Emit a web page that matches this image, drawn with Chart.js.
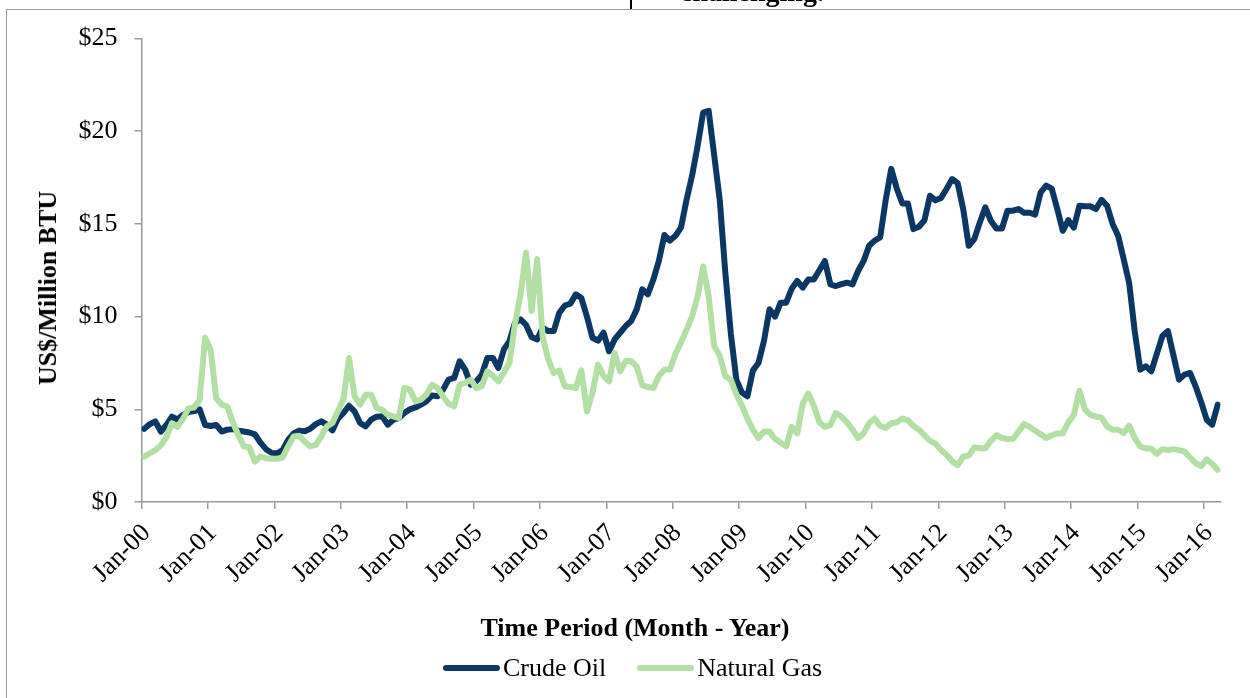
<!DOCTYPE html>
<html>
<head>
<meta charset="utf-8">
<script src="https://cdn.jsdelivr.net/npm/chart.js@4.4.1/dist/chart.umd.min.js"></script>
<style>
  html, body { margin: 0; padding: 0; background: #ffffff; }
  body { width: 1250px; height: 698px; position: relative; overflow: hidden; font-family: "Liberation Serif", "Times New Roman", serif; }
  #chart { position: absolute; left: 0; top: 0; }
  .abs { position: absolute; white-space: nowrap; }
  #frameTop { left: 7px; top: 9px; width: 1243px; height: 0; border-top: 1.5px solid #9a9a9a; }
  #frameLeft { left: 6px; top: 9px; width: 0; height: 689px; border-left: 1.5px solid #9a9a9a; }
  #divider { left: 630px; top: 0; width: 2px; height: 9px; background: #000; }
  #docText { left: 680px; top: -22px; font-size: 28px; line-height: 28px; font-weight: bold; color: #000; }
  #yTitle { left: 48px; top: 288px; font-size: 26px; font-weight: bold; color: #000; transform: translate(-50%, -50%) rotate(-90deg); }
  #xTitle { left: 635px; top: 628px; font-size: 26px; font-weight: bold; color: #000; transform: translate(-50%, -50%); }
  #legend { left: 443px; top: 668px; transform: translateY(-50%); display: flex; align-items: center; font-size: 26px; color: #000; }
  .item { display: flex; align-items: center; }
  .swatch { width: 57px; height: 6px; border-radius: 3px; margin-right: 3px; }
  .gap { width: 31px; }
</style>
</head>
<body>
<canvas id="chart" width="1250" height="698"></canvas>
<div class="abs" id="frameTop"></div>
<div class="abs" id="frameLeft"></div>
<div class="abs" id="divider"></div>
<div class="abs" id="docText">challenging.</div>
<div class="abs" id="yTitle">US$/Million BTU</div>
<div class="abs" id="xTitle">Time Period (Month - Year)</div>
<div class="abs" id="legend"></div>
<script>
// ---- Data (monthly, Jan-2000 .. Mar-2016), US$/Million BTU ----
const seriesNames = ['Crude Oil', 'Natural Gas'];
const seriesColors = ['#0a3763', '#b2dfa2'];

const tickLabels = ['Jan-00','Jan-01','Jan-02','Jan-03','Jan-04','Jan-05','Jan-06','Jan-07',
  'Jan-08','Jan-09','Jan-10','Jan-11','Jan-12','Jan-13','Jan-14','Jan-15','Jan-16'];

const yTickValues = [0, 5, 10, 15, 20, 25];

const crudeOil = [
  3.95, 4.2, 4.35, 3.8, 4.15, 4.6, 4.45, 4.7, 4.85, 4.9, 5.0, 4.15,
  4.1, 4.15, 3.8, 3.9, 3.93, 3.85, 3.8, 3.75, 3.65, 3.2, 2.85, 2.65,
  2.63, 2.8, 3.35, 3.7, 3.85, 3.82, 3.95, 4.2, 4.35, 4.17, 3.86, 4.5,
  4.8, 5.19, 4.89, 4.26, 4.08, 4.44, 4.6, 4.62, 4.17, 4.44, 4.53, 4.8,
  5.0, 5.1, 5.25, 5.43, 5.75, 5.7, 6.06, 6.6, 6.69, 7.59, 7.14, 6.33,
  6.51, 6.87, 7.77, 7.77, 7.23, 8.23, 8.68, 9.67, 9.85, 9.55, 8.9, 8.77,
  9.4, 9.22, 9.22, 10.2, 10.6, 10.7, 11.2, 11.0, 10.0, 8.86, 8.7, 9.13,
  8.13, 8.77, 9.13, 9.49, 9.76, 10.39, 11.47, 11.2, 12.0, 13.0, 14.4, 14.1,
  14.36, 14.8, 16.3, 17.6, 19.2, 21.0, 21.1, 18.7, 16.3, 12.4, 9.1, 6.6,
  5.9, 5.7, 7.1, 7.5, 8.7, 10.4, 10.0, 10.75, 10.75, 11.5, 11.92, 11.56,
  12.0, 12.0, 12.5, 13.0, 11.74, 11.65, 11.75, 11.83, 11.74, 12.46, 13.0, 13.82,
  14.1, 14.27, 16.3, 17.97, 16.9, 16.1, 16.1, 14.72, 14.85, 15.2, 16.52, 16.27,
  16.4, 16.9, 17.42, 17.2, 15.8, 13.82, 14.18, 15.08, 15.89, 15.17, 14.75, 14.75,
  15.71, 15.71, 15.8, 15.6, 15.6, 15.5, 16.7, 17.06, 16.9, 15.8, 14.63, 15.2,
  14.8, 15.98, 15.95, 15.95, 15.8, 16.3, 15.98, 15.0, 14.36, 13.1, 11.8, 9.2,
  7.14, 7.32, 7.05, 8.0, 8.95, 9.22, 7.9, 6.6, 6.87, 6.96, 6.24, 5.4,
  4.44, 4.17, 5.25
];

const naturalGas = [
  2.45, 2.63, 2.8, 3.05, 3.5, 4.25, 4.05, 4.5, 5.05, 5.1, 5.5, 8.86,
  8.2, 5.6, 5.25, 5.15, 4.3, 3.6, 3.0, 2.95, 2.18, 2.45, 2.36, 2.33,
  2.33, 2.4, 3.0, 3.54, 3.57, 3.26, 3.0, 3.08, 3.54, 4.08, 4.26, 4.9,
  5.55, 7.77, 5.7, 5.25, 5.79, 5.79, 5.07, 4.98, 4.71, 4.62, 4.53, 6.15,
  6.06, 5.43, 5.52, 5.8, 6.33, 6.15, 5.7, 5.3, 5.16, 6.33, 6.42, 6.6,
  6.15, 6.24, 7.05, 6.8, 6.5, 7.0, 7.5, 9.6, 11.2, 13.45, 10.3, 13.1,
  8.9, 7.7, 6.96, 7.1, 6.24, 6.2, 6.15, 7.1, 4.89, 5.9, 7.41, 6.8,
  6.51, 8.04, 7.05, 7.6, 7.6, 7.3, 6.3, 6.2, 6.15, 6.8, 7.14, 7.14,
  8.0, 8.6, 9.3, 10.0, 11.1, 12.7, 11.1, 8.4, 7.9, 6.8, 6.6, 5.8,
  5.2, 4.5, 3.9, 3.45, 3.8, 3.8, 3.4, 3.2, 3.0, 4.05, 3.7, 5.3,
  5.85, 5.2, 4.3, 4.05, 4.15, 4.8, 4.6, 4.3, 3.9, 3.45, 3.7, 4.25,
  4.5, 4.1, 4.0, 4.25, 4.3, 4.5, 4.4, 4.1, 3.9, 3.6, 3.3, 3.15,
  2.8, 2.55, 2.2, 1.98, 2.45, 2.5, 2.95, 2.9, 2.9, 3.3, 3.6, 3.45,
  3.4, 3.4, 3.8, 4.2, 4.05, 3.85, 3.65, 3.45, 3.6, 3.7, 3.7, 4.3,
  4.7, 6.0, 5.0, 4.7, 4.6, 4.55, 4.08, 3.9, 3.9, 3.72, 4.12, 3.45,
  2.99, 2.9, 2.87, 2.6, 2.85, 2.8, 2.85, 2.8, 2.72, 2.4, 2.1, 1.93,
  2.3, 2.05, 1.73
];

// ---- Build chart ----
// x is measured in months since 1 Jan 2000; each monthly value sits mid-month.
const MID_MONTH = 0.5;
const axisMonths = 195; // axis runs to 1 Apr 2016
const toPoints = arr => arr.map((v, i) => ({ x: i + MID_MONTH, y: v }));

const axisGray = '#9a9a9a';
const serif = '"Liberation Serif", "Times New Roman", serif';

// HTML legend
const legendEl = document.getElementById('legend');
seriesNames.forEach((name, k) => {
  if (k > 0) { const g = document.createElement('div'); g.className = 'gap'; legendEl.appendChild(g); }
  const item = document.createElement('div'); item.className = 'item';
  const sw = document.createElement('div'); sw.className = 'swatch'; sw.style.background = seriesColors[k];
  const tx = document.createElement('span'); tx.textContent = name;
  item.appendChild(sw); item.appendChild(tx); legendEl.appendChild(item);
});

new Chart(document.getElementById('chart'), {
  type: 'line',
  data: {
    datasets: [
      { label: seriesNames[0], data: toPoints(crudeOil), borderColor: seriesColors[0], order: 1 },
      { label: seriesNames[1], data: toPoints(naturalGas), borderColor: seriesColors[1], order: 0 }
    ]
  },
  options: {
    responsive: false,
    animation: false,
    devicePixelRatio: 1,
    layout: { padding: { left: 0, top: 38.5, right: 29.5, bottom: 0 } },
    elements: {
      line: { borderWidth: 6, tension: 0, fill: false, borderJoinStyle: 'round', borderCapStyle: 'round' },
      point: { radius: 0, hoverRadius: 0 }
    },
    plugins: { legend: { display: false }, tooltip: { enabled: false }, title: { display: false } },
    scales: {
      x: {
        type: 'linear',
        min: 0,
        max: axisMonths,
        afterFit: s => { s.height = 196; },
        afterBuildTicks: s => { s.ticks = tickLabels.map((_, k) => ({ value: k * 12 })); },
        grid: { drawOnChartArea: false, drawTicks: true, tickLength: 7, color: axisGray, lineWidth: 1.5 },
        border: { display: true, color: axisGray, width: 1.5 },
        ticks: {
          autoSkip: false,
          maxRotation: 45,
          minRotation: 45,
          padding: 9,
          labelOffset: 5,
          color: '#000',
          font: { family: serif, size: 26 },
          callback: v => tickLabels[Math.round(v / 12)]
        }
      },
      y: {
        type: 'linear',
        min: 0,
        max: 25,
        afterFit: s => { s.width = 141.5; },
        afterBuildTicks: s => { s.ticks = yTickValues.map(v => ({ value: v })); },
        grid: { drawOnChartArea: false, drawTicks: true, tickLength: 7, color: axisGray, lineWidth: 1.5 },
        border: { display: true, color: axisGray, width: 1.5 },
        ticks: {
          padding: 17,
          color: '#000',
          font: { family: serif, size: 26 },
          callback: v => '$' + v
        }
      }
    }
  }
});
</script>
</body>
</html>
